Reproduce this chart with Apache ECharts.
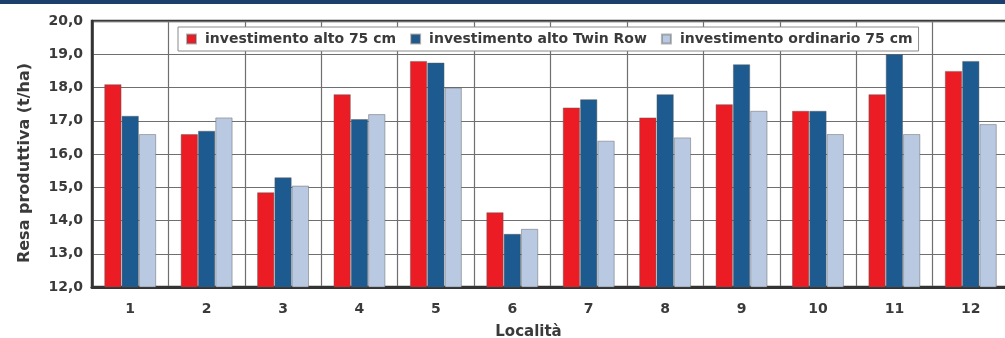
<!DOCTYPE html>
<html>
<head>
<meta charset="utf-8">
<script src="https://cdn.jsdelivr.net/npm/echarts@6/dist/echarts.min.js"></script>
<style>html,body{margin:0;padding:0;background:#fff}#c{width:1005px;height:338px}</style>
</head>
<body>
<div id="c"></div>
<script>
const categories = ['1','2','3','4','5','6','7','8','9','10','11','12'];
const seriesNames = ['investimento alto 75 cm','investimento alto Twin Row','investimento ordinario 75 cm'];
const altoStd = [18.1, 16.6, 14.85, 17.8, 18.8, 14.25, 17.4, 17.1, 17.5, 17.3, 17.8, 18.5];
const altoTwin = [17.15, 16.7, 15.3, 17.05, 18.75, 13.6, 17.65, 17.8, 18.7, 17.3, 19.0, 18.8];
const ordinario = [16.6, 17.1, 15.05, 17.2, 18.0, 13.75, 16.4, 16.5, 17.3, 16.6, 16.6, 16.9];
const yTicks = { min: 12, max: 20, interval: 1 };
const colors = ['#ec1c24', '#1c5a8f', '#b9c9e1'];
const FONT = 'DejaVu Sans';

const chart = echarts.init(document.getElementById('c'));
const data = [altoStd, altoTwin, ordinario];
chart.setOption({
  animation: false,
  graphic: [{ type: 'rect', left: 0, top: 0, shape: { width: 1005, height: 4 }, style: { fill: '#1d3f6e' } }],
  grid: { left: 92, top: 21, width: 917, height: 266, containLabel: false, outerBoundsMode: 'none',
    show: true, borderColor: '#3a3a3a', borderWidth: 2.5, backgroundColor: 'transparent' },
  legend: {
    left: 178, top: 27,
    itemWidth: 9, itemHeight: 9, itemGap: 14,
    padding: [5, 6, 5, 8],
    backgroundColor: '#fff', borderColor: '#8a8a8a', borderWidth: 1,
    icon: 'rect',
    textStyle: { fontFamily: FONT, fontWeight: 'bold', fontSize: 14, color: '#3a3a3a', padding: [0, 0, 0, 4] },
    data: seriesNames
  },
  xAxis: {
    type: 'category', data: categories,
    axisLine: { lineStyle: { color: '#333', width: 3 } },
    axisTick: { show: false },
    axisLabel: { fontFamily: FONT, fontWeight: 'bold', fontSize: 14, color: '#3a3a3a', margin: 15 },
    splitLine: { show: true, interval: 0, lineStyle: { color: '#6f6f6f', width: 1.2 } },
    name: 'Località', nameLocation: 'middle', nameGap: 38,
    nameTextStyle: { fontFamily: FONT, fontWeight: 'bold', fontSize: 15, color: '#3a3a3a', padding: [0, 44, 0, 0] }
  },
  yAxis: {
    type: 'value', min: yTicks.min, max: yTicks.max, interval: yTicks.interval,
    axisLine: { show: true, lineStyle: { color: '#333', width: 2.5 } },
    axisTick: { show: false },
    axisLabel: { fontFamily: FONT, fontWeight: 'bold', fontSize: 14, color: '#3a3a3a', margin: 9,
      formatter: v => v.toFixed(1).replace('.', ',') },
    splitLine: { lineStyle: { color: '#6f6f6f', width: 1.2 } },
    name: 'Resa produttiva (t/ha)', nameLocation: 'middle', nameGap: 59,
    nameTextStyle: { fontFamily: FONT, fontWeight: 'bold', fontSize: 16, color: '#3a3a3a', padding: [0, 18, 0, 0] }
  },
  series: data.map((d, i) => ({
    name: seriesNames[i], type: 'bar', data: d,
    barGap: '0%', barCategoryGap: '32%',
    itemStyle: { color: colors[i], borderColor: 'rgba(90,90,90,0.45)', borderWidth: 1 }
  }))
});
</script>
</body>
</html>
